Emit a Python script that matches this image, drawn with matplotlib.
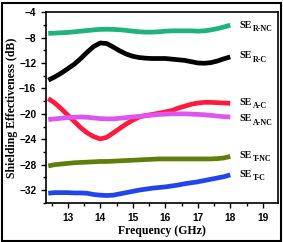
import matplotlib
matplotlib.use("Agg")
import matplotlib.pyplot as plt
from matplotlib.ticker import MultipleLocator
from matplotlib.patches import Rectangle

freq = [12.4, 12.6, 12.8, 13.0, 13.2, 13.4, 13.6, 13.8, 14.0, 14.2, 14.4, 14.6, 14.8,
        15.0, 15.2, 15.4, 15.6, 15.8, 16.0, 16.2, 16.4, 16.6, 16.8, 17.0, 17.2, 17.4,
        17.6, 17.8, 18.0]

se_r_nc = [-7.35, -7.3, -7.25, -7.2, -7.1, -7.0, -6.9, -6.8, -6.72, -6.7, -6.72, -6.78,
           -6.88, -7.0, -7.1, -7.15, -7.15, -7.1, -7.0, -6.95, -6.95, -6.95, -6.95, -7.0,
           -6.95, -6.8, -6.6, -6.35, -6.05]
se_r_c = [-14.7, -14.2, -13.6, -12.9, -12.2, -11.3, -10.3, -9.4, -8.85, -8.95, -9.5, -10.1,
          -10.6, -10.95, -11.15, -11.25, -11.3, -11.3, -11.3, -11.4, -11.5, -11.6, -11.8,
          -12.0, -12.05, -11.95, -11.7, -11.35, -11.05]
se_a_c = [-17.6, -18.3, -19.2, -20.2, -21.2, -22.2, -23.0, -23.6, -23.95, -23.7, -23.0,
          -22.3, -21.6, -21.0, -20.5, -20.25, -20.1, -19.9, -19.7, -19.5, -19.1, -18.8,
          -18.5, -18.3, -18.2, -18.2, -18.25, -18.3, -18.35]
se_a_nc = [-20.9, -20.8, -20.7, -20.6, -20.55, -20.5, -20.55, -20.65, -20.75, -20.8,
           -20.8, -20.7, -20.6, -20.5, -20.4, -20.3, -20.2, -20.1, -20.05, -20.0, -20.0,
           -20.0, -20.05, -20.1, -20.15, -20.25, -20.35, -20.45, -20.5]
se_t_nc = [-28.2, -28.0, -27.9, -27.8, -27.7, -27.65, -27.6, -27.55, -27.5, -27.5, -27.45,
           -27.4, -27.35, -27.3, -27.25, -27.2, -27.15, -27.1, -27.1, -27.1, -27.1, -27.1,
           -27.1, -27.1, -27.1, -27.1, -27.05, -26.95, -26.7]
se_t_c = [-32.5, -32.4, -32.4, -32.4, -32.45, -32.45, -32.5, -32.7, -32.8, -32.85, -32.8,
          -32.6, -32.4, -32.2, -32.0, -31.85, -31.7, -31.6, -31.5, -31.35, -31.2, -31.0,
          -30.85, -30.7, -30.5, -30.3, -30.1, -29.9, -29.6]

labels = ["R-NC", "R-C", "A-C", "A-NC", "T-NC", "T-C"]
label_y = [-6.05, -10.9, -18.25, -20.8, -26.6, -29.6]
colors = ["#1db37a", "#000000", "#ff1a3c", "#dd55ee", "#5f7f0c", "#2244ee"]
series = [se_r_nc, se_r_c, se_a_c, se_a_nc, se_t_nc, se_t_c]

fig = plt.figure(figsize=(2.83, 2.42), dpi=100)
ax = fig.add_axes([0.1625, 0.162, 0.82, 0.788])

for ys, c in zip(series, colors):
    ax.plot(freq, ys, color=c, lw=3.4, solid_capstyle='butt', solid_joinstyle='round')

for lab, ly in zip(labels, label_y):
    ax.text(18.28, ly, "SE", fontsize=7.2, fontweight='bold', family='Liberation Serif',
            va='center', ha='left')
    ax.annotate(lab, xy=(18.28, ly), xytext=(9.5, -2.6), textcoords='offset points',
                fontsize=5.8, fontweight='bold', family='Liberation Serif',
                va='center', ha='left')

ax.set_xlim(12.33, 19.47)
ax.set_ylim(-34, -4)
ax.xaxis.set_major_locator(MultipleLocator(1))
ax.xaxis.set_minor_locator(MultipleLocator(0.5))
ax.yaxis.set_major_locator(MultipleLocator(4))
ax.yaxis.set_minor_locator(MultipleLocator(2))
ax.set_xticks([13, 14, 15, 16, 17, 18, 19])
ax.tick_params(which='both', direction='out', width=1.0, labelsize=7.3)
ax.tick_params(which='major', length=3.5)
ax.tick_params(which='minor', length=2)
for lbl in ax.get_xticklabels() + ax.get_yticklabels():
    lbl.set_fontweight('bold')
    lbl.set_family('Liberation Sans')
for s in ax.spines.values():
    s.set_linewidth(1.2)

ax.set_xlabel("Frequency (GHz)", fontsize=8.5, fontweight='bold',
              family='Liberation Serif', labelpad=2)
ax.set_ylabel("Shielding Effectiveness (dB)", fontsize=8.5, fontweight='bold',
              family='Liberation Serif', labelpad=1)

fig.patches.append(Rectangle((0.006, 0.006), 0.988, 0.982, transform=fig.transFigure,
                             fill=False, edgecolor='black', lw=1.5))
fig.savefig("out.png", dpi=100)
